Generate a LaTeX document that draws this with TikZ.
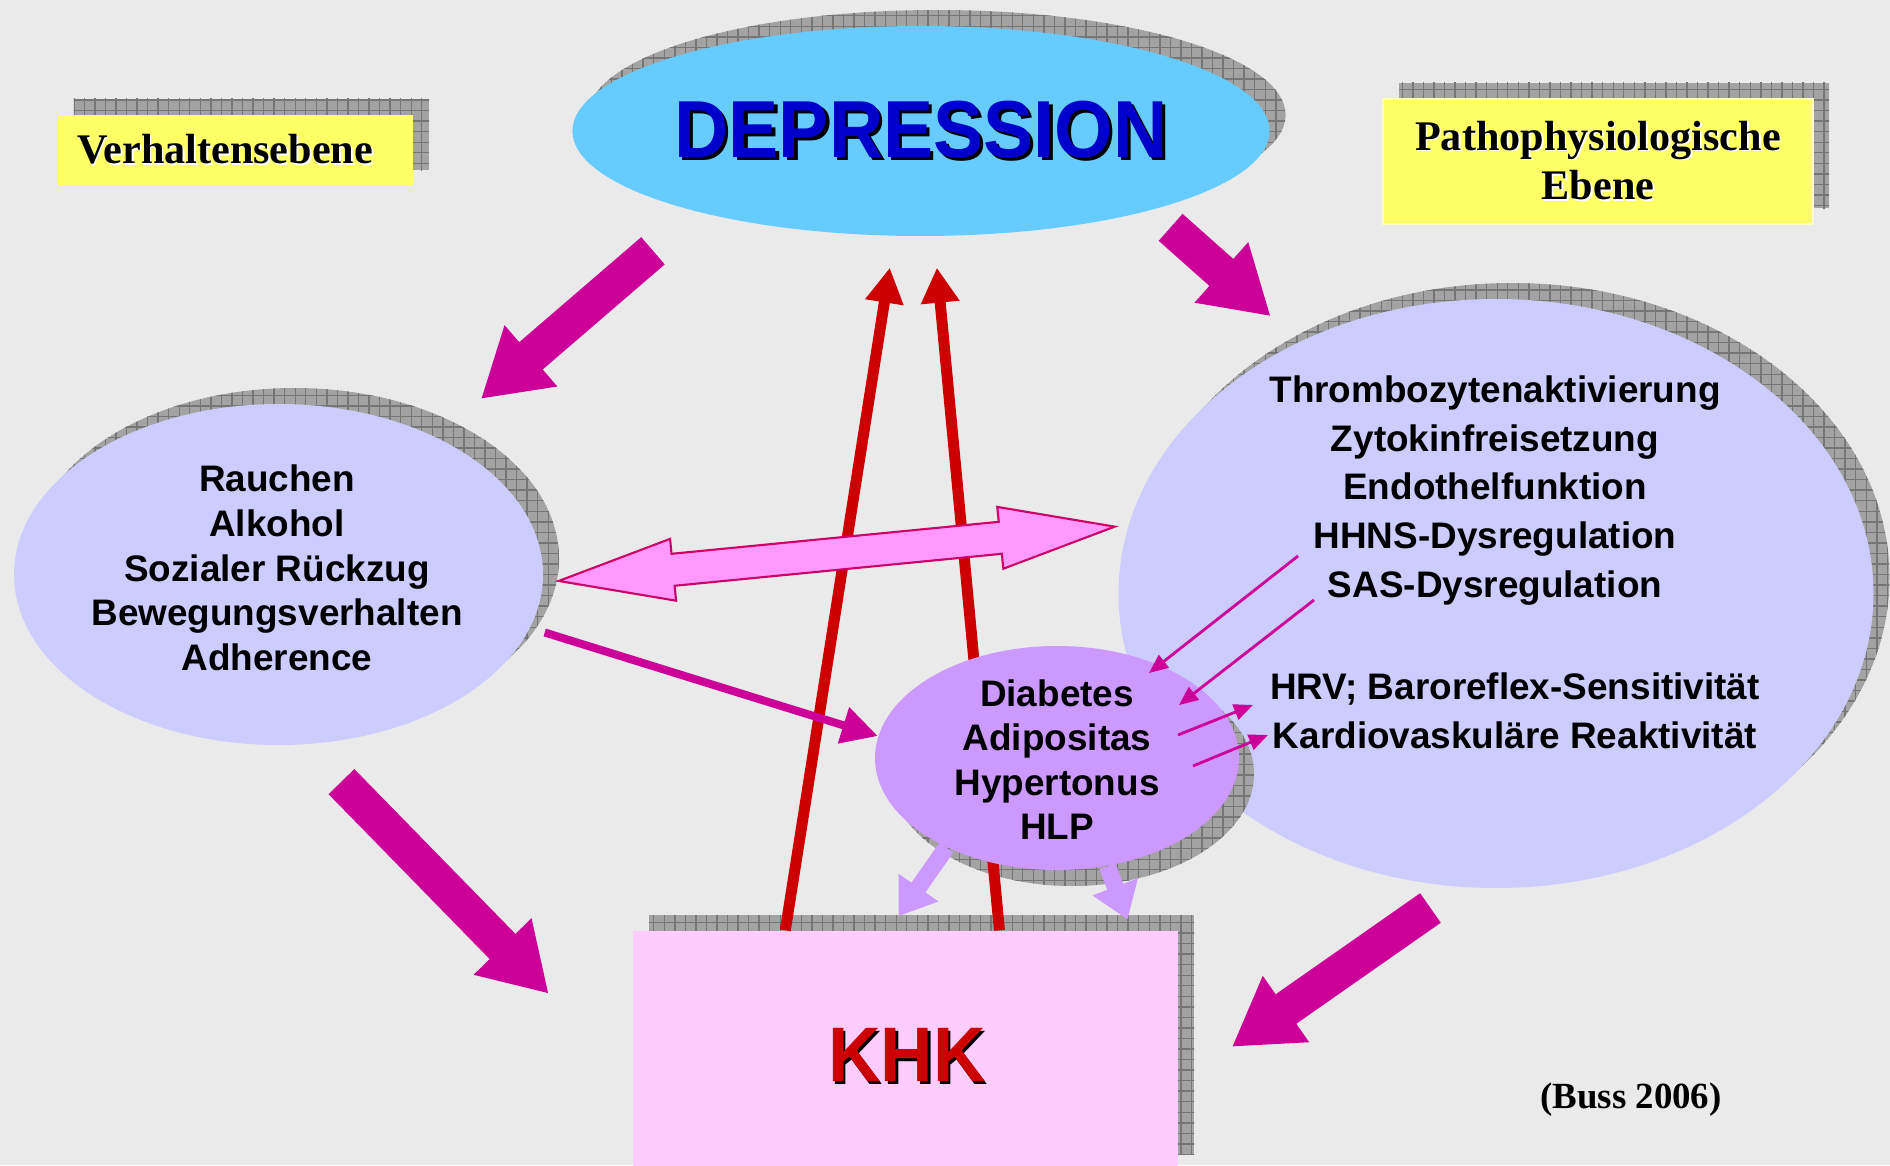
\documentclass[tikz,border=0pt]{standalone}
\usepackage{fontspec}
\setmainfont{Liberation Serif}
\setsansfont{Liberation Sans}
\usepackage{graphicx}
\usetikzlibrary{arrows.meta,shapes,shadows,patterns}

\definecolor{bgc}{HTML}{EAEAEA}
\definecolor{shgray}{HTML}{A3A3A3}
\definecolor{shgrid}{HTML}{767676}
\definecolor{skyc}{HTML}{66CCFF}
\definecolor{depc}{HTML}{0000CC}
\definecolor{yelc}{HTML}{FFFF66}
\definecolor{lavc}{HTML}{CCCCFF}
\definecolor{lilac}{HTML}{CC99FF}
\definecolor{pinkc}{HTML}{FFCCFF}
\definecolor{redc}{HTML}{CC0000}
\definecolor{magc}{HTML}{CC0099}
\definecolor{rosec}{HTML}{FF99FF}
\definecolor{rosed}{HTML}{CC0066}

\newcommand{\txtsh}[3]{\rlap{\kern#2\raisebox{-#2}{\color{#1}#3}}#3}

\tikzstyle{hatch}=[general shadow={draw=none,fill=shgray,shadow xshift=1.6mm,shadow yshift=1.6mm},
  general shadow={draw=none,pattern=grid,pattern color=shgrid,shadow xshift=1.6mm,shadow yshift=1.6mm}]
\tikzstyle{hatchfill}=[fill=shgray,postaction={pattern=grid,pattern color=shgrid}]
\tikzstyle{oval}=[ellipse,inner sep=0pt]
\tikzstyle{tag}=[rectangle,fill=yelc,inner sep=0pt,font=\bfseries\fontsize{12}{14.2}\selectfont,align=center,hatch]
\tikzset{lst/.style={inner sep=0pt,align=center,font=\sffamily\bfseries\fontsize{10.5}{#1}\selectfont}}
\tikzstyle{bigarr}=[draw=magc,line width=3.6mm,-{Triangle[length=6.6mm,width=7.6mm]}]
\tikzstyle{midarr}=[draw=magc,line width=0.8mm,-{Triangle[length=3.6mm,width=3.6mm]}]
\tikzstyle{thinarr}=[draw=magc,line width=0.8pt,-{Triangle[length=1.9mm,width=1.6mm]}]
\tikzstyle{redarr}=[draw=redc,line width=1.1mm,-{Triangle[length=3.5mm,width=3.65mm]}]
\tikzstyle{liarr}=[draw=lilac,line width=1.7mm,-{Triangle[length=3.5mm,width=4.6mm]}]
\tikzstyle{dblarr}=[double arrow,fill=rosec,draw=rosed,line width=0.6pt,inner xsep=0pt,inner ysep=1.5mm,
  double arrow head extend=1.5mm,double arrow tip angle=30.25,minimum height=5.586cm]

\begin{document}
\begin{tikzpicture}
\useasboundingbox (0,0) rectangle (18.9,11.65);
\clip (0,0) rectangle (18.9,11.65);
\fill[bgc] (0,0) rectangle (18.9,11.65);

% level tags
\node[tag,text width=3.17cm,align=left,minimum width=3.55cm,minimum height=0.71cm] (lvl1) at (2.355,10.145) {\txtsh{white}{0.5pt}{Verhaltensebene}};
\node[tag,draw=yelc!40!white,line width=0.8pt,minimum width=4.30cm,minimum height=1.25cm] (lvl2) at (15.98,10.035)
  {\txtsh{white}{0.5pt}{Pathophysiologische}\\\txtsh{white}{0.5pt}{Ebene}};

% main ovals and box
\node[oval,hatch,fill=skyc,minimum width=6.94cm,minimum height=2.10cm,text=depc,
  font=\sffamily\bfseries\fontsize{23}{23}\selectfont] (dep) at (9.21,10.34) {\scalebox{0.93}[1]{\txtsh{black}{1pt}{DEPRESSION}}};
\node[oval,hatch,fill=lavc,minimum width=5.29cm,minimum height=3.41cm] (verh) at (2.785,5.905) {};
\node[oval,hatch,fill=lavc,minimum width=7.55cm,minimum height=5.89cm] (phys) at (14.96,5.715) {};
\node[rectangle,hatch,fill=pinkc,inner sep=0pt,minimum width=5.45cm,minimum height=2.39cm] (khk) at (9.055,1.145) {};

% shadow below the risk oval
\path[hatchfill] (10.72,3.91) ellipse [x radius=1.82,y radius=1.12];

% red arrows KHK -> depression
\draw[redarr,shorten >=3.17mm] (khk.135) -- (dep.256.5);
\draw[redarr,shorten >=3.12mm] (khk.52.9) -- (dep.-83.4);

\node[oval,fill=lilac,minimum width=3.64cm,minimum height=2.24cm] (risk) at (10.57,4.07) {};

% texts
\node[lst=12.7pt] (verhtxt) at (2.77,5.97) {Rauchen\\Alkohol\\Sozialer Rückzug\\Bewegungsverhalten\\Adherence};
\node[lst=13.9pt] (phystxt) at (14.95,6.745) {Thrombozytenaktivierung\\Zytokinfreisetzung\\Endothelfunktion\\HHNS-Dysregulation\\SAS-Dysregulation};
\node[lst=13.9pt] (hrvtxt) at (15.15,4.545) {HRV; Baroreflex-Sensitivität\\Kardiovaskuläre Reaktivität};
\node[lst=12.6pt] (risktxt) at (10.57,4.055) {Diabetes\\Adipositas\\Hypertonus\\HLP};
\node[inner sep=0pt,text=redc,font=\sffamily\bfseries\fontsize{22}{22}\selectfont] (khktxt) at (9.07,1.09)
  {\scalebox{0.94}[1]{\txtsh{black}{0.8pt}{KHK}}};
\node[inner sep=0pt,font=\bfseries\fontsize{10.5}{12}\selectfont] (src) at (16.31,0.65) {(Buss 2006)};

% two-way link
\node[dblarr,rotate=5.58] (link) at (8.367,6.112) {};

% big arrows
\draw[bigarr,shorten <=5.9mm,shorten >=5.85mm] (dep.200.2) -- (verh.41.5);
\draw[bigarr,shorten <=2.55mm,shorten >=3.8mm] (dep.-19.7) -- (phys.128.8);
\draw[bigarr,shorten <=5.15mm,shorten >=11.96mm] (verh.-81.9) -- (khk.186);
\draw[bigarr,shorten <=3.6mm,shorten >=6.49mm] (phys.263.6) -- (khk.-7.92);

\draw[midarr,shorten <=1.5mm] (verh.-12) -- (risk.173);

% small arrows inside the right oval
\coordinate (h1) at (12.98,6.09);
\coordinate (h2) at (13.14,5.65);
\coordinate (r1) at (11.49,4.92);
\coordinate (r2) at (11.79,4.60);
\coordinate (r3) at (11.78,4.30);
\coordinate (r4) at (11.93,3.99);
\coordinate (v1) at (12.53,4.60);
\coordinate (v2) at (12.68,4.30);
\draw[thinarr] (h1) -- (r1);
\draw[thinarr] (h2) -- (r2);
\draw[thinarr] (r3) -- (v1);
\draw[thinarr] (r4) -- (v2);

\draw[liarr,shorten >=1.71mm] (risk.219) -- (khk.98.2);
\draw[liarr,shorten >=1.15mm] (risk.-65) -- (khk.28.4);
\end{tikzpicture}
\end{document}
